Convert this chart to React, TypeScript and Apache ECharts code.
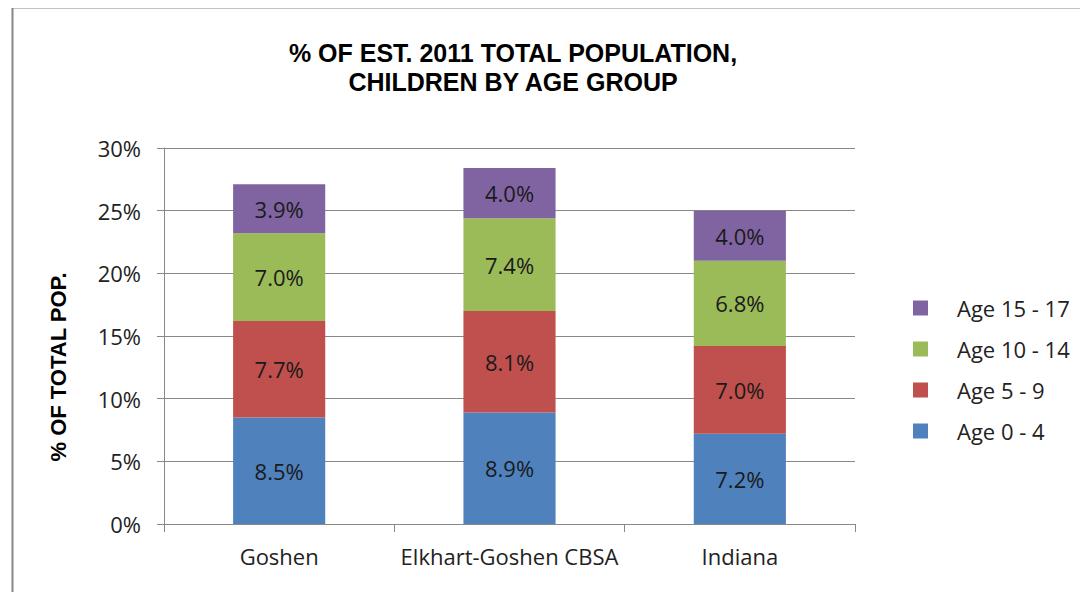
import React, { useEffect, useRef } from "react";
import * as echarts from "echarts";

const categories = ["Goshen", "Elkhart-Goshen CBSA", "Indiana"];
const seriesNames = ["Age 0 - 4", "Age 5 - 9", "Age 10 - 14", "Age 15 - 17"];
const age0to4 = [8.5, 8.9, 7.2];
const age5to9 = [7.7, 8.1, 7.0];
const age10to14 = [7.0, 7.4, 6.8];
const age15to17 = [3.9, 4.0, 4.0];
const yTicks = [0, 5, 10, 15, 20, 25, 30];
const colors = ["#4F81BD", "#C0504D", "#9BBB59", "#8064A2"];
const titleLines = ["% OF EST. 2011 TOTAL POPULATION,", "CHILDREN BY AGE GROUP"];
const yAxisTitle = "% OF TOTAL POP.";

const FONT = "'Open Sans', Lato, sans-serif";
const BOLD = "'Liberation Sans', Arial, sans-serif";

export default function App() {
  const ref = useRef<HTMLDivElement>(null);
  useEffect(() => {
    if (!ref.current) return;
    const chart = echarts.init(ref.current, undefined, { renderer: "svg" });
    const values = [age0to4, age5to9, age10to14, age15to17];
    chart.setOption({
      animation: false,
      backgroundColor: "#fff",
      title: {
        text: titleLines.join("\n"),
        left: 508,
        textAlign: "center",
        top: 33,
        textStyle: {
          fontFamily: BOLD,
          fontWeight: "bold",
          fontSize: 25,
          lineHeight: 29,
          color: "#000",
        },
      },
      graphic: [
        {
          type: "rect",
          shape: { x: 12.5, y: 7.5, width: 1090, height: 600 },
          style: { fill: "none", stroke: "#868686", lineWidth: 2 },
          silent: true,
        },
        {
          type: "text",
          x: 58,
          y: 367,
          rotation: Math.PI / 2,
          style: {
            text: yAxisTitle,
            align: "center",
            verticalAlign: "middle",
            fontFamily: BOLD,
            fontWeight: "bold",
            fontSize: 22,
            fill: "#000",
          },
          silent: true,
        },
      ],
      legend: {
        orient: "vertical",
        left: 908,
        top: 292,
        itemWidth: 15,
        itemHeight: 15,
        itemGap: 19,
        icon: "rect",
        data: [...seriesNames].reverse(),
        textStyle: {
          fontFamily: FONT,
          fontSize: 22,
          color: "#222",
          padding: [0, 0, 0, 24],
        },
      },
      grid: { left: 164, right: 233, top: 148, bottom: 76 },
      xAxis: {
        type: "category",
        data: categories,
        axisLine: { lineStyle: { color: "#888", width: 1 } },
        axisTick: { show: true, length: 8, lineStyle: { color: "#888" } },
        axisLabel: { interval: 0, fontFamily: FONT, fontSize: 22, color: "#222", margin: 21 },
      },
      yAxis: {
        type: "value",
        min: yTicks[0],
        max: yTicks[yTicks.length - 1],
        interval: yTicks[1] - yTicks[0],
        axisLine: { show: true, lineStyle: { color: "#888" } },
        axisTick: { show: true, length: 7, lineStyle: { color: "#888" } },
        splitLine: { lineStyle: { color: "#888" } },
        axisLabel: {
          fontFamily: FONT,
          fontSize: 22,
          color: "#222",
          margin: 23,
          formatter: (v: number) => `${v}%`,
        },
      },
      series: seriesNames.map((name, i) => ({
        name,
        type: "bar",
        stack: "total",
        barWidth: "40%",
        data: values[i],
        itemStyle: { color: colors[i] },
        label: {
          show: true,
          position: "inside",
          fontFamily: FONT,
          fontSize: 22,
          color: "#1a1a1a",
          formatter: (p: any) => `${Number(p.value).toFixed(1)}%`,
        },
      })),
    });
    return () => chart.dispose();
  }, []);
  return <div ref={ref} style={{ width: 1088, height: 600, margin: -8 }} />;
}
